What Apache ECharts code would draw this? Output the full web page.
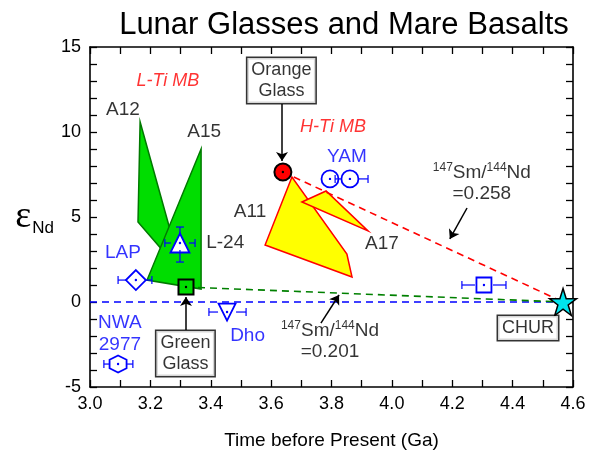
<!DOCTYPE html>
<html>
<head>
<meta charset="utf-8">
<script src="https://cdn.jsdelivr.net/npm/echarts@6/dist/echarts.min.js"></script>
<style>
  html, body { margin: 0; padding: 0; background: #fff; }
  #chart { width: 591px; height: 456px; }
</style>
</head>
<body>
<div id="chart"></div>
<script>
// --- data (x = age in Ga, y = epsilon Nd) ---
var a12Poly = [[3.166, 10.59], [3.159, 4.71], [3.305, 1.71]];
var a15Poly = [[3.368, 9.0], [3.368, 0.76], [3.189, 1.29]];
var a11Poly = [[3.669, 7.35], [3.580, 3.35], [3.868, 1.47], [3.851, 2.82]];
var a17Poly = [[3.702, 5.88], [3.782, 6.53], [3.921, 4.18]];

var pointNames = ['Orange Glass', 'Green Glass', 'LAP', 'L-24', 'Dho', 'NWA 2977', 'YAM a', 'YAM b', 'Sample', 'CHUR'];
var pointX = [3.639, 3.318, 3.152, 3.298, 3.454, 3.093, 3.795, 3.861, 4.305, 4.567];
var pointY = [7.65, 0.88, 1.29, 3.47, -0.59, -3.65, 7.24, 7.24, 1.0, 0];
var errXLo = [null, null, 3.093, 3.248, 3.394, 3.046, null, 3.812, 4.232, null];
var errXHi = [null, null, 3.205, 3.348, 3.517, 3.142, null, 3.921, 4.378, null];
var errYLo = [null, null, null, 2.35, null, null, null, null, null, null];
var errYHi = [null, null, null, 4.41, null, null, null, null, null, null];

var xTicks = { min: 3.0, max: 4.6, step: 0.1 };
var yTicks = { min: -5, max: 15, step: 1 };

// --- styles ---
var blue = '#0000ff';
var starPath = 'path://M50,2 L61,36 L97,36 L68,57 L79,92 L50,71 L21,92 L32,57 L3,36 L39,36 Z';
var hexPath = 'path://M50,0 L93,25 L93,75 L50,100 L7,75 L7,25 Z';
var markerStyles = [
    { symbol: 'circle', size: 17, fill: '#ff0000', stroke: '#000', lw: 2, dot: '#000' },
    { symbol: 'rect', size: 15, fill: '#00dd00', stroke: '#000', lw: 2, dot: '#000' },
    { symbol: 'diamond', size: 20, fill: '#fff', stroke: blue, lw: 1.8, dot: blue },
    { symbol: 'triangle', size: 19, fill: '#fff', stroke: blue, lw: 1.8, dot: blue },
    { symbol: 'triangle', size: 17, fill: '#fff', stroke: blue, lw: 1.8, dot: blue, rotate: 180 },
    { symbol: hexPath, size: 17, fill: '#fff', stroke: blue, lw: 1.8, dot: blue },
    { symbol: 'circle', size: 17, fill: '#fff', stroke: blue, lw: 1.8, dot: blue },
    { symbol: 'circle', size: 17, fill: '#fff', stroke: blue, lw: 1.8, dot: blue },
    { symbol: 'rect', size: 15, fill: '#fff', stroke: blue, lw: 1.8, dot: blue },
    { symbol: starPath, size: 27, fill: '#00e5ee', stroke: '#000', lw: 1.5, dot: null }
];

var font = 'Liberation Sans';

function polySeries(poly, fill, stroke) {
    return {
        type: 'custom',
        z: 1,
        silent: true,
        data: poly,
        renderItem: function (params, api) {
            if (params.dataIndex !== 0) return;
            var pts = poly.map(function (p) { return api.coord(p); });
            return {
                type: 'polygon',
                shape: { points: pts },
                style: { fill: fill, stroke: stroke, lineWidth: 1.5, lineJoin: 'miter' }
            };
        }
    };
}

function dashLine(data, color) {
    return {
        type: 'line',
        z: 2,
        data: data,
        symbol: 'none',
        silent: true,
        lineStyle: { color: color, width: 1.6, type: [7, 5] }
    };
}

var series = [
    polySeries(a12Poly, '#00dd00', '#007a00'),
    polySeries(a15Poly, '#00dd00', '#007a00'),
    polySeries(a11Poly, '#ffff00', '#ff0000'),
    polySeries(a17Poly, '#ffff00', '#ff0000'),
    dashLine([[xTicks.min, 0], [pointX[9], pointY[9]]], blue),
    dashLine([[pointX[1], pointY[1]], [pointX[9], pointY[9]]], '#008000'),
    dashLine([[pointX[0], pointY[0]], [pointX[9], pointY[9]]], '#ff0000')
];

pointNames.forEach(function (name, i) {
    var st = markerStyles[i];
    series.push({
        type: 'scatter',
        name: name,
        z: 3,
        silent: true,
        data: [[pointX[i], pointY[i]]],
        symbol: st.symbol,
        symbolSize: st.size,
        symbolRotate: st.rotate || 0,
        itemStyle: { color: st.fill, borderColor: st.stroke, borderWidth: st.lw, opacity: 1 }
    });
});

// error bars and centre dots
series.push({
    type: 'custom',
    z: 4,
    silent: true,
    data: pointX.map(function (x, i) { return [x, pointY[i]]; }),
    renderItem: function (params, api) {
        var i = params.dataIndex;
        var c = api.coord([pointX[i], pointY[i]]);
        var kids = [];
        var gap = 9, cap = 4;
        var ls = { stroke: blue, lineWidth: 1.2 };
        if (errXLo[i] != null) {
            var lo = api.coord([errXLo[i], pointY[i]])[0];
            var hi = api.coord([errXHi[i], pointY[i]])[0];
            kids.push({ type: 'line', shape: { x1: lo, y1: c[1], x2: c[0] - gap, y2: c[1] }, style: ls });
            kids.push({ type: 'line', shape: { x1: c[0] + gap, y1: c[1], x2: hi, y2: c[1] }, style: ls });
            kids.push({ type: 'line', shape: { x1: lo, y1: c[1] - cap, x2: lo, y2: c[1] + cap }, style: ls });
            kids.push({ type: 'line', shape: { x1: hi, y1: c[1] - cap, x2: hi, y2: c[1] + cap }, style: ls });
        }
        if (errYLo[i] != null) {
            var ylo = api.coord([pointX[i], errYLo[i]])[1];
            var yhi = api.coord([pointX[i], errYHi[i]])[1];
            kids.push({ type: 'line', shape: { x1: c[0], y1: yhi, x2: c[0], y2: c[1] - gap - 1 }, style: ls });
            kids.push({ type: 'line', shape: { x1: c[0], y1: c[1] + gap - 2, x2: c[0], y2: ylo }, style: ls });
            kids.push({ type: 'line', shape: { x1: c[0] - cap, y1: yhi, x2: c[0] + cap, y2: yhi }, style: ls });
            kids.push({ type: 'line', shape: { x1: c[0] - cap, y1: ylo, x2: c[0] + cap, y2: ylo }, style: ls });
        }
        var dot = markerStyles[i].dot;
        if (dot) {
            kids.push({ type: 'circle', shape: { cx: c[0], cy: c[1], r: 1.2 }, style: { fill: dot } });
        }
        return { type: 'group', children: kids };
    }
});

// arrows (start, end in data units)
var arrows = [
    [[3.636, 11.65], [3.636, 8.3]],
    [[3.318, -1.65], [3.318, 0.3]],
    [[4.249, 5.53], [4.192, 3.71]],
    [[3.765, -1.24], [3.825, 0.41]]
];
series.push({
    type: 'lines',
    coordinateSystem: 'cartesian2d',
    z: 5,
    silent: true,
    symbol: ['none', 'arrow'],
    symbolSize: 9,
    lineStyle: { color: '#000', width: 1.5, opacity: 1 },
    data: arrows.map(function (a) { return { coords: a }; })
});

// text annotations: [x, y, text, kind]
var notes = [
    [3.258, 13.0, 'L-Ti MB', 'red'],
    [3.805, 10.3, 'H-Ti MB', 'red'],
    [3.109, 11.3, 'A12', 'black'],
    [3.378, 10.0, 'A15', 'black'],
    [3.53, 5.29, 'A11', 'black'],
    [3.967, 3.41, 'A17', 'black'],
    [3.448, 3.47, 'L-24', 'black'],
    [3.109, 2.88, 'LAP', 'blue'],
    [3.099, -1.85, 'NWA\n2977', 'blue'],
    [3.522, -2.0, 'Dho', 'blue'],
    [3.851, 8.53, 'YAM', 'blue'],
    [3.634, 13.03, 'Orange\nGlass', 'box'],
    [3.316, -3.03, 'Green\nGlass', 'box'],
    [4.451, -1.53, 'CHUR', 'box'],
    [4.298, 7.0, '{s|147}{n|Sm/}{s|144}{n|Nd}\n{n|=0.258}', 'ratio'],
    [3.795, -2.29, '{s|147}{n|Sm/}{s|144}{n|Nd}\n{n|=0.201}', 'ratio']
];
var noteStyles = {
    red: { color: '#ff0000', fontStyle: 'italic', fontSize: 18 },
    black: { color: '#000', fontSize: 19 },
    blue: { color: blue, fontSize: 19, lineHeight: 22 },
    box: { color: '#000', fontSize: 18, lineHeight: 21, backgroundColor: '#fff', borderColor: '#000', borderWidth: 1.5, padding: [2, 4, 1, 4] },
    ratio: {
        color: '#000', lineHeight: 21,
        rich: {
            s: { fontSize: 12, fontFamily: font, verticalAlign: 'top', lineHeight: 21, color: '#000' },
            n: { fontSize: 19, fontFamily: font, lineHeight: 21, color: '#000' }
        }
    }
};
series.push({
    type: 'scatter',
    z: 6,
    silent: true,
    symbolSize: 0,
    data: notes.map(function (n) {
        var st = Object.assign({ show: true, position: 'inside', fontFamily: font, align: 'center', verticalAlign: 'middle', formatter: n[2] }, noteStyles[n[3]]);
        return { value: [n[0], n[1]], label: st };
    })
});

var chart = echarts.init(document.getElementById('chart'));

function xLabel(v) {
    var k = Math.round(v * 10);
    return k % 2 === 0 ? (k / 10).toFixed(1) : '';
}
function yLabel(v) {
    return Math.round(v) % 5 === 0 ? String(Math.round(v)) : '';
}

var axisLine = { show: true, onZero: false, lineStyle: { color: '#000', width: 1.6 } };
var tick = { show: true, inside: true, length: 7, lineStyle: { color: '#000', width: 1.3 } };

chart.setOption({
    animation: false,
    backgroundColor: '#fff',
    title: {
        text: 'Lunar Glasses and Mare Basalts',
        left: 339,
        textAlign: 'center',
        top: 5,
        textStyle: { fontFamily: font, fontSize: 31, fontWeight: 'normal', color: '#000' }
    },
    grid: { left: 90, right: 18, top: 47, bottom: 69 },
    xAxis: [
        {
            type: 'value', min: xTicks.min, max: xTicks.max, interval: xTicks.step,
            position: 'bottom',
            name: 'Time before Present (Ga)', nameLocation: 'middle', nameGap: 44,
            nameTextStyle: { fontFamily: font, fontSize: 19, color: '#000' },
            axisLine: axisLine, axisTick: tick, splitLine: { show: false },
            axisLabel: { formatter: xLabel, fontFamily: font, fontSize: 18, color: '#000', margin: 8 }
        },
        {
            type: 'value', min: xTicks.min, max: xTicks.max, interval: xTicks.step,
            position: 'top',
            axisLine: axisLine, axisTick: tick, splitLine: { show: false },
            axisLabel: { show: false }
        }
    ],
    yAxis: [
        {
            type: 'value', min: yTicks.min, max: yTicks.max, interval: yTicks.step,
            position: 'left',
            name: '{e|ε}{s|Nd}', nameLocation: 'middle', nameRotate: 0, nameGap: 36,
            nameTextStyle: {
                rich: {
                    e: { fontFamily: 'Liberation Serif', fontSize: 38, color: '#000', lineHeight: 40, verticalAlign: 'middle' },
                    s: { fontFamily: font, fontSize: 17, color: '#000', lineHeight: 40, verticalAlign: 'bottom', padding: [16, 0, 0, 1] }
                }
            },
            axisLine: axisLine, axisTick: tick, splitLine: { show: false },
            axisLabel: { formatter: yLabel, fontFamily: font, fontSize: 18, color: '#000', margin: 9 }
        },
        {
            type: 'value', min: yTicks.min, max: yTicks.max, interval: yTicks.step,
            position: 'right',
            axisLine: axisLine, axisTick: tick, splitLine: { show: false },
            axisLabel: { show: false }
        }
    ],
    series: series
});
</script>
</body>
</html>
